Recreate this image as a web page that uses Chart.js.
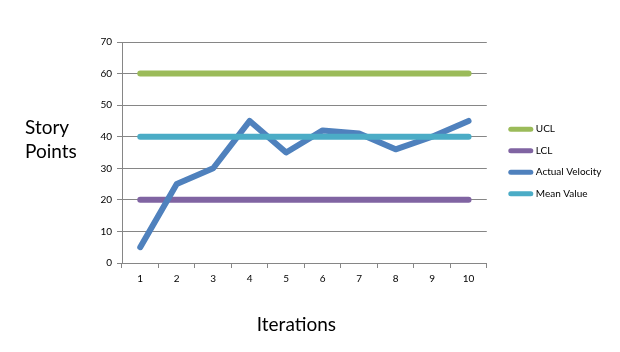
<!DOCTYPE html>
<html>
<head>
<meta charset="utf-8">
<script src="https://cdn.jsdelivr.net/npm/chart.js@4.4.0/dist/chart.umd.min.js"></script>
<style>
html,body{margin:0;padding:0;background:#fff;}
#wrap{position:relative;width:620px;height:352px;}
</style>
</head>
<body>
<div id="wrap"><canvas id="c" width="620" height="352"></canvas></div>
<script>
const categories = ['1','2','3','4','5','6','7','8','9','10'];
const ucl = [60,60,60,60,60,60,60,60,60,60];
const lcl = [20,20,20,20,20,20,20,20,20,20];
const actualVelocity = [5,25,30,45,35,42,41,36,40,45];
const meanValue = [40,40,40,40,40,40,40,40,40,40];
const yTicks = [0,10,20,30,40,50,60,70];
const seriesNames = ['UCL','LCL','Actual Velocity','Mean Value'];
const yTitle = ['Story', 'Points'];
const xTitle = 'Iterations';

const FONT = 'Lato, "Liberation Sans", sans-serif';
const colors = ['#9BBB59','#8064A2','#4F81BD','#4BACC6'];

const titlePlugin = {
  id: 'axisTitles',
  afterLayout(chart) {
    const lg = chart.legend;
    if (lg) {
      lg.left += 12.5; lg.right += 12.5;
      lg.top -= 4.5; lg.bottom -= 4.5;
    }
  },
  afterDraw(chart) {
    const ctx = chart.ctx;
    const a = chart.chartArea;
    ctx.save();
    ctx.fillStyle = '#000';
    ctx.font = '19px ' + FONT;
    ctx.textAlign = 'left';
    ctx.textBaseline = 'middle';
    ctx.fillText(yTitle[0], 25, a.top + 86);
    ctx.fillText(yTitle[1], 25, a.top + 110);
    ctx.textAlign = 'center';
    ctx.fillText(xTitle, (a.left + a.right) / 2 - 8, a.bottom + 62);
    ctx.restore();
  }
};

const mk = (i, data, order) => ({
  label: seriesNames[i],
  data: data,
  borderColor: colors[i],
  backgroundColor: colors[i],
  borderWidth: 6,
  borderCapStyle: 'round',
  borderJoinStyle: 'round',
  pointRadius: 0,
  pointHoverRadius: 0,
  tension: 0,
  order: order
});

new Chart(document.getElementById('c'), {
  type: 'line',
  data: {
    labels: categories,
    datasets: [
      mk(0, ucl, 3),
      mk(1, lcl, 2),
      mk(2, actualVelocity, 1),
      mk(3, meanValue, 0)
    ]
  },
  options: {
    responsive: false,
    animation: false,
    devicePixelRatio: 1,
    layout: { padding: { left: 82, right: 21, top: 42, bottom: 62 } },
    plugins: {
      tooltip: { enabled: false },
      legend: {
        position: 'right',
        labels: {
          usePointStyle: true,
          pointStyle: 'line',
          pointStyleWidth: 20,
          color: '#000',
          font: { family: FONT, size: 10 },
          padding: 11.5,
          sort: (a, b) => a.datasetIndex - b.datasetIndex,
          generateLabels(chart) {
            const items = Chart.defaults.plugins.legend.labels.generateLabels(chart);
            items.forEach(it => { it.lineCap = 'round'; it.lineWidth = 5; });
            return items;
          }
        }
      }
    },
    scales: {
      x: {
        type: 'category',
        offset: true,
        grid: {
          offset: true,
          drawOnChartArea: false,
          drawTicks: true,
          tickLength: 5,
          color: '#868686'
        },
        border: { color: '#868686', width: 1 },
        ticks: { color: '#000', font: { family: FONT, size: 10 }, padding: 5, maxRotation: 0 }
      },
      y: {
        min: 0,
        max: 70,
        afterFit(s) { s.width = 40; },
        afterBuildTicks(s) { s.ticks = yTicks.map(v => ({ value: v })); },
        grid: { color: '#868686', tickLength: 5, drawTicks: true },
        border: { color: '#868686', width: 1 },
        ticks: { color: '#000', font: { family: FONT, size: 10 }, padding: 5 }
      }
    }
  },
  plugins: [titlePlugin]
});
</script>
</body>
</html>
